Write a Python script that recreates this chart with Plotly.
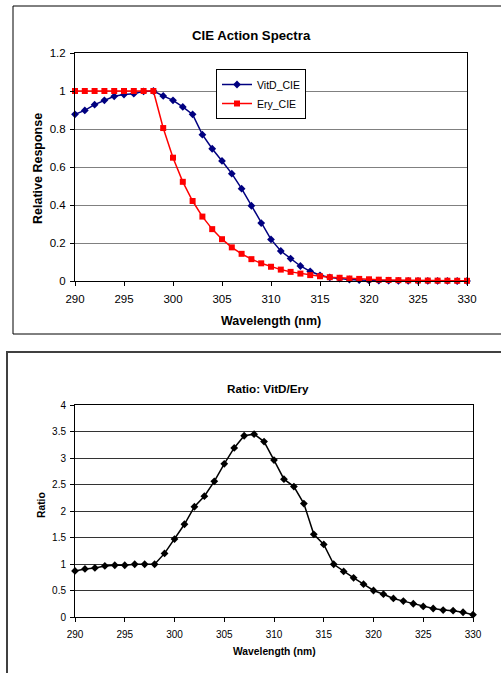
import plotly.graph_objects as go

wavelength = list(range(290, 331))
vitd_cie = [0.877, 0.898, 0.928, 0.951, 0.972, 0.981, 0.986, 0.998, 1.0, 0.974,
            0.951, 0.916, 0.877, 0.770, 0.696, 0.632, 0.565, 0.486, 0.396, 0.305,
            0.219, 0.158, 0.118, 0.079, 0.051, 0.030, 0.019, 0.013, 0.008, 0.005,
            0.003, 0.002, 0.0015, 0.001, 0.0007, 0.0005, 0.0004, 0.0003, 0.0002, 0.0001, 0.0001]
ery_cie = [1.0, 1.0, 1.0, 1.0, 1.0, 1.0, 1.0, 1.0, 1.0, 0.805,
           0.649, 0.522, 0.421, 0.339, 0.273, 0.220, 0.177, 0.143, 0.115, 0.093,
           0.075, 0.060, 0.048, 0.039, 0.031, 0.025, 0.020, 0.017, 0.013, 0.011,
           0.009, 0.0069, 0.0056, 0.0045, 0.0036, 0.0029, 0.0023, 0.0019, 0.0015, 0.0012, 0.001]
ratio = [0.87, 0.907, 0.926, 0.964, 0.976, 0.976, 0.995, 0.995, 0.995, 1.20,
         1.47, 1.75, 2.08, 2.28, 2.56, 2.89, 3.19, 3.42, 3.45, 3.31,
         2.96, 2.60, 2.46, 2.14, 1.56, 1.37, 0.995, 0.86, 0.74, 0.62,
         0.50, 0.43, 0.35, 0.30, 0.25, 0.20, 0.16, 0.13, 0.12, 0.09, 0.044]

W, H = 501, 673
def px(x): return x / W
def py(y): return 1 - y / H

FONT = "Liberation Sans, Arial, sans-serif"

fig = go.Figure()
fig.add_trace(go.Scatter(x=wavelength, y=vitd_cie, name="VitD_CIE", mode="lines+markers",
                         line=dict(color="#000080", width=1.5),
                         marker=dict(symbol="diamond", size=6, color="#000080"),
                         xaxis="x", yaxis="y", cliponaxis=False))
fig.add_trace(go.Scatter(x=wavelength, y=ery_cie, name="Ery_CIE", mode="lines+markers",
                         line=dict(color="#FF0000", width=1.5),
                         marker=dict(symbol="square", size=6, color="#FF0000"),
                         xaxis="x", yaxis="y", cliponaxis=False))
fig.add_trace(go.Scatter(x=wavelength, y=ratio, name="Ratio", mode="lines+markers",
                         line=dict(color="#000000", width=1.5),
                         marker=dict(symbol="diamond", size=6, color="#000000"),
                         xaxis="x2", yaxis="y2", cliponaxis=False, showlegend=False))

def ax(size, standoff):
    return dict(showline=True, linecolor="black", linewidth=1, mirror=True,
                ticks="outside", ticklen=4, tickcolor="black", zeroline=False,
                automargin=False, ticklabelstandoff=standoff,
                tickfont=dict(family=FONT, size=size, color="black"))

def label(text, x, y, size, angle=0):
    return dict(text=text, x=px(x), y=py(y), xref="paper", yref="paper",
                xanchor="center", yanchor="middle", showarrow=False,
                textangle=angle, font=dict(size=size, family=FONT, color="black"))

fig.update_layout(
    template="none",
    width=W, height=H, margin=dict(l=0, r=0, t=0, b=0, pad=0, autoexpand=False),
    paper_bgcolor="white", plot_bgcolor="white",
    font=dict(family=FONT, color="black"),
    xaxis=dict(domain=[px(75), px(467)], range=[290, 330], dtick=5, showgrid=False,
               anchor="y", **ax(11.5, 3)),
    yaxis=dict(domain=[py(281), py(53)], range=[0, 1.2], dtick=0.2, showgrid=True,
               gridcolor="#808080", gridwidth=1, anchor="x", **ax(11.5, 2)),
    xaxis2=dict(domain=[px(75), px(473)], range=[290, 330], dtick=5, showgrid=False,
                anchor="y2", **ax(10, 4)),
    yaxis2=dict(domain=[py(617), py(405)], range=[0, 4], dtick=0.5, showgrid=True,
                gridcolor="#333333", gridwidth=1, anchor="x2", **ax(10, 2)),
    legend=dict(x=px(216), y=py(94), xanchor="left", yanchor="middle",
                bordercolor="black", borderwidth=1, bgcolor="white",
                font=dict(family=FONT, size=10.5, color="black"),
                tracegroupgap=0, itemwidth=30),
    shapes=[
        dict(type="rect", xref="paper", yref="paper", x0=px(13), x1=1.05,
             y0=py(334), y1=py(6), line=dict(color="black", width=1)),
        dict(type="rect", xref="paper", yref="paper", x0=px(7), x1=1.05,
             y0=-0.05, y1=py(352), line=dict(color="#404040", width=2)),
    ],
    annotations=[
        label("<b>CIE Action Spectra</b>", 251, 35, 13.2),
        label("<b>Wavelength (nm)</b>", 271, 321, 12.5),
        label("<b>Relative Response</b>", 38, 169, 12.5, -90),
        label("<b>Ratio: VitD/Ery</b>", 267.5, 389, 11.7),
        label("<b>Wavelength (nm)</b>", 274, 651, 10.3),
        label("<b>Ratio</b>", 41, 505, 10.3, -90),
    ],
)

fig.write_html("out.html", config={"displayModeBar": False},
               post_script="document.body.style.margin='0';document.body.style.overflow='hidden';")
